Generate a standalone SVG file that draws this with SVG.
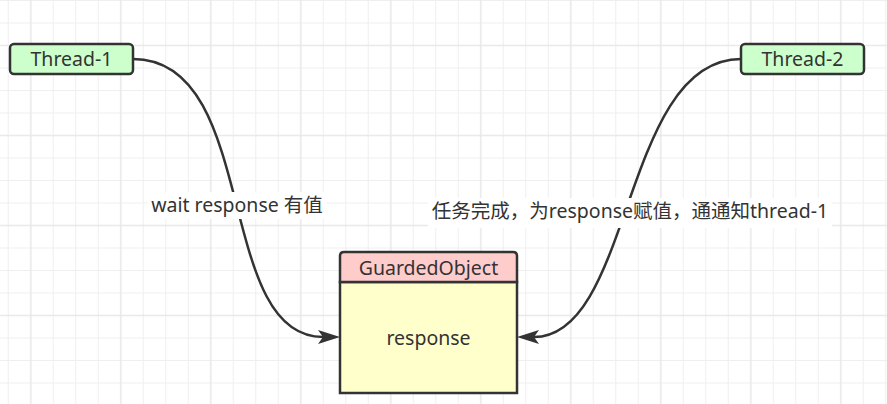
<svg xmlns="http://www.w3.org/2000/svg" width="887" height="404" viewBox="0 0 887 404">
  <defs>
    <pattern id="gridMinor" patternUnits="userSpaceOnUse" x="-3" y="-10.75" width="22.5" height="22.5">
      <path d="M11.3 0 V22.5 M0 11.25 H22.5" stroke="#efefef" stroke-width="1" fill="none"/>
    </pattern>
    <pattern id="gridMajor" patternUnits="userSpaceOnUse" x="-14.2" y="0.5" width="90" height="90">
      <path d="M45 0 V90 M0 45 H90" stroke="#e5e5e5" stroke-width="1" fill="none"/>
    </pattern>
    <marker id="arrow" markerUnits="userSpaceOnUse" viewBox="0 0 22 14" refX="5" refY="7" markerWidth="22" markerHeight="14" orient="auto">
      <path d="M0,0 L22,7 L0,14 L5,7 Z" fill="#333333"/>
    </marker>
    <style>
      .node { stroke: #333333; stroke-width: 2.5; }
      .t { font-family: "Noto Sans", "Noto Sans CJK SC", sans-serif; font-size: 19.5px; fill: #333333; text-anchor: middle; }
      .edge { fill: none; stroke: #333333; stroke-width: 2.5; marker-end: url(#arrow); }
    </style>
  </defs>
  <rect x="0" y="0" width="887" height="404" fill="#ffffff"/>
  <rect x="0" y="0" width="887" height="404" fill="url(#gridMinor)"/>
  <rect x="0" y="0" width="887" height="404" fill="url(#gridMajor)"/>

  <g id="connectors">
    <g id="edge-thread1">
      <path class="edge" d="M133,59 C260,59 214,337 323,337"/>
      <rect x="148" y="192" width="178" height="27" fill="#ffffff"/>
      <text class="t" x="237" y="211.5">wait response 有值</text>
    </g>
    <g id="edge-thread2">
      <path class="edge" d="M741,59 C622,59 633,337 534,337"/>
      <rect x="428" y="198" width="404" height="30" fill="#ffffff"/>
      <text class="t" x="630" y="218">任务完成，为response赋值，通通知thread-1</text>
    </g>
  </g>

  <g id="thread-1">
    <rect class="node" x="10" y="44" width="123" height="30" rx="4" fill="#ccffcc"/>
    <text class="t" x="71.5" y="66">Thread-1</text>
  </g>
  <g id="thread-2">
    <rect class="node" x="741" y="44" width="123" height="30" rx="4" fill="#ccffcc"/>
    <text class="t" x="802.5" y="66">Thread-2</text>
  </g>
  <g id="guarded-object">
    <rect class="node" x="340" y="282" width="177" height="111" fill="#ffffcc"/>
    <path class="node" d="M340,282 V256 Q340,252 344,252 H513 Q517,252 517,256 V282 Z" fill="#ffcccc"/>
    <text class="t" x="428.5" y="275">GuardedObject</text>
    <text class="t" x="428.5" y="345">response</text>
  </g>
</svg>
